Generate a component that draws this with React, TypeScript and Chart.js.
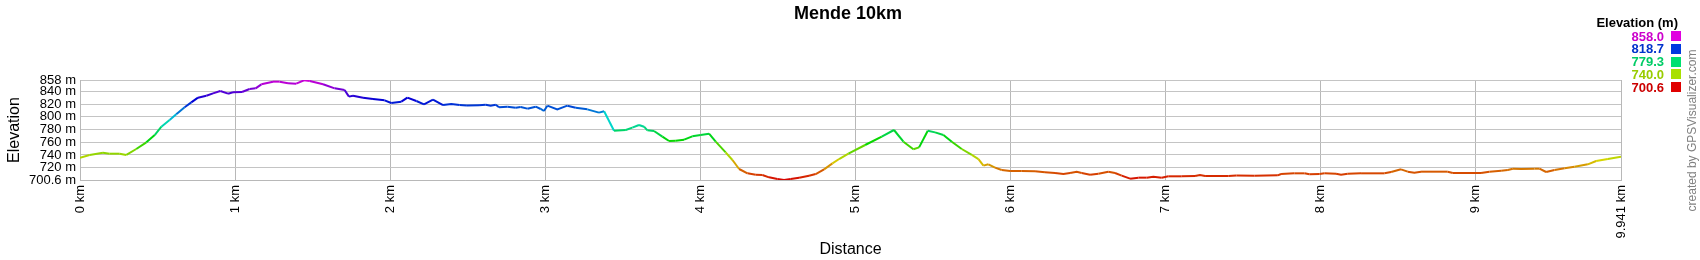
import React, { useEffect, useRef } from "react";
import { Chart, registerables } from "chart.js";

Chart.register(...registerables);

const FONT = "'Liberation Sans', Arial, Helvetica, sans-serif";

const chartTitle = "Mende 10km";
const xAxisTitle = "Distance";
const yAxisTitle = "Elevation";
const legendTitle = "Elevation (m)";
const creditText = "created by GPSVisualizer.com";

const distanceKm = [
  0.0, 0.062, 0.148, 0.191, 0.256, 0.299, 0.363, 0.428, 0.482, 0.525,
  0.578, 0.621, 0.675, 0.718, 0.761, 0.815, 0.858, 0.905, 0.955, 0.987,
  1.045, 1.094, 1.133, 1.17, 1.245, 1.288, 1.342, 1.395, 1.445, 1.482,
  1.568, 1.643, 1.707, 1.735, 1.761, 1.826, 1.89, 1.965, 2.008, 2.073,
  2.112, 2.17, 2.219, 2.277, 2.342, 2.395, 2.449, 2.496, 2.574, 2.617,
  2.649, 2.682, 2.703, 2.757, 2.811, 2.843, 2.886, 2.94, 2.972, 2.993,
  3.015, 3.079, 3.144, 3.198, 3.273, 3.348, 3.381, 3.445, 3.521, 3.563,
  3.606, 3.639, 3.66, 3.703, 3.757, 3.8, 3.843, 3.897, 3.95, 4.004,
  4.058, 4.101, 4.165, 4.209, 4.252, 4.306, 4.359, 4.402, 4.445, 4.499,
  4.542, 4.585, 4.639, 4.703, 4.746, 4.8, 4.854, 4.897, 4.957, 5.065,
  5.172, 5.251, 5.312, 5.376, 5.413, 5.469, 5.516, 5.57, 5.624, 5.688,
  5.753, 5.796, 5.828, 5.86, 5.903, 5.946, 6.0, 6.075, 6.161, 6.225,
  6.29, 6.344, 6.387, 6.43, 6.462, 6.516, 6.57, 6.634, 6.677, 6.72,
  6.774, 6.828, 6.881, 6.924, 6.978, 7.021, 7.107, 7.193, 7.225, 7.258,
  7.322, 7.408, 7.46, 7.576, 7.727, 7.748, 7.834, 7.899, 7.931, 7.996,
  8.028, 8.103, 8.135, 8.178, 8.264, 8.415, 8.458, 8.522, 8.565, 8.608,
  8.651, 8.737, 8.823, 8.856, 8.952, 9.038, 9.092, 9.168, 9.211, 9.243,
  9.297, 9.383, 9.415, 9.458, 9.512, 9.577, 9.641, 9.727, 9.781, 9.856,
  9.941,
];

const elevationM = [
  735.7, 740.0, 743.6, 742.0, 742.0, 740.0, 749.4, 759.9, 771.4, 784.5,
  795.0, 804.0, 815.0, 822.8, 830.2, 833.3, 837.0, 840.7, 836.5, 838.6,
  839.1, 843.8, 844.9, 851.2, 855.4, 855.4, 852.8, 852.2, 857.5, 856.4,
  851.2, 844.9, 842.3, 831.8, 833.3, 830.2, 828.0, 826.0, 821.8, 823.9,
  830.2, 825.0, 819.7, 827.0, 818.6, 820.2, 818.6, 818.0, 818.1, 819.2,
  817.6, 819.2, 815.0, 816.0, 814.4, 815.5, 812.9, 816.0, 812.4, 809.2,
  817.6, 811.8, 817.6, 814.4, 811.8, 806.6, 808.7, 778.2, 779.3, 783.0,
  787.2, 784.5, 778.8, 777.7, 768.8, 762.0, 762.5, 764.1, 769.3, 771.4,
  773.5, 760.9, 744.1, 732.1, 717.9, 711.1, 709.0, 708.5, 704.8, 702.2,
  700.6, 702.2, 704.3, 707.4, 710.0, 717.4, 726.8, 733.6, 742.0, 755.7,
  768.8, 779.3, 760.9, 748.9, 752.0, 778.2, 775.6, 771.4, 760.9, 749.4,
  740.0, 733.6, 723.2, 725.3, 720.0, 716.3, 714.8, 714.8, 714.2, 712.7,
  711.6, 710.0, 711.6, 713.7, 711.6, 709.0, 710.6, 713.7, 711.6, 707.4,
  702.7, 704.3, 704.3, 705.8, 704.3, 706.4, 706.4, 706.9, 708.5, 706.9,
  706.9, 706.9, 707.5, 707.4, 707.9, 710.0, 711.1, 711.1, 709.5, 710.0,
  711.1, 710.6, 709.0, 710.6, 711.1, 711.1, 713.2, 717.4, 713.7, 712.1,
  713.7, 713.7, 713.7, 711.6, 711.6, 711.6, 713.7, 715.3, 716.3, 718.4,
  717.9, 718.4, 718.4, 713.2, 716.3, 719.0, 721.6, 725.3, 730.5, 733.6,
  737.3,
];

const yTickValues = [700.6, 720, 740, 760, 780, 800, 820, 840, 858];
const xTickValues = [0, 1, 2, 3, 4, 5, 6, 7, 8, 9, 9.941];
const legendValues = [858.0, 818.7, 779.3, 740.0, 700.6];

const minElevation = 700.6;
const maxElevation = 858.0;

function colorFor(e: number, light = 42): string {
  let t = (e - minElevation) / (maxElevation - minElevation);
  if (t < 0) t = 0;
  if (t > 1) t = 1;
  const hue = 300 * t;
  return `hsl(${hue.toFixed(1)}, 100%, ${light}%)`;
}

function fmtY(v: number): string {
  const r = Math.round(v * 10) / 10;
  return Number.isInteger(r) ? `${r} m` : `${r.toFixed(1)} m`;
}

function fmtX(v: number): string {
  const r = Math.round(v * 1000) / 1000;
  return `${r} km`;
}

const overlayPlugin = {
  id: "overlay",
  afterDraw(chart: any) {
    const ctx = chart.ctx as CanvasRenderingContext2D;
    ctx.save();
    // title
    ctx.fillStyle = "#000";
    ctx.font = `bold 18px ${FONT}`;
    ctx.textAlign = "center";
    ctx.textBaseline = "alphabetic";
    ctx.fillText(chartTitle, 848, 19);
    // legend
    ctx.font = `bold 13px ${FONT}`;
    ctx.textAlign = "right";
    ctx.fillText(legendTitle, 1678, 26.5);
    legendValues.forEach((v, i) => {
      const base = 40.5 + i * 12.8;
      ctx.fillStyle = colorFor(v, 40);
      ctx.fillText(v.toFixed(1), 1664, base);
      ctx.fillStyle = colorFor(v, 44);
      ctx.fillRect(1671, Math.round(base - 9.5), 10, 10);
    });
    // credit
    ctx.translate(1693, 130.5);
    ctx.rotate(-Math.PI / 2);
    ctx.font = `12px ${FONT}`;
    ctx.fillStyle = "#808080";
    ctx.textAlign = "center";
    ctx.textBaseline = "middle";
    ctx.fillText(creditText, 0, 0);
    ctx.restore();
  },
};

export default function App() {
  const canvasRef = useRef<HTMLCanvasElement | null>(null);

  useEffect(() => {
    document.body.style.margin = "0";
    const canvas = canvasRef.current;
    if (!canvas) return;
    const points = distanceKm.map((d, i) => ({ x: d, y: elevationM[i] }));

    const chart = new Chart(canvas, {
      type: "line",
      data: {
        datasets: [
          {
            data: points,
            borderWidth: 2,
            pointRadius: 0,
            tension: 0,
            fill: false,
            borderColor: colorFor(740),
            segment: {
              borderColor: (c: any) =>
                colorFor((c.p0.parsed.y + c.p1.parsed.y) / 2),
            },
          },
        ],
      },
      options: {
        animation: false,
        responsive: false,
        devicePixelRatio: 1,
        layout: { padding: { top: 80, right: 79, left: 0, bottom: 0 } },
        plugins: {
          legend: { display: false },
          tooltip: { enabled: false },
          title: { display: false },
        },
        scales: {
          x: {
            type: "linear",
            min: 0,
            max: 9.941,
            afterBuildTicks: (scale: any) => {
              scale.ticks = xTickValues.map((v) => ({ value: v }));
            },
            afterFit: (scale: any) => {
              scale.height = 80;
            },
            ticks: {
              autoSkip: false,
              minRotation: 90,
              maxRotation: 90,
              padding: 5,
              color: "#000",
              font: { family: FONT, size: 13 },
              callback: (v: any) => fmtX(Number(v)),
            },
            grid: { color: "#b8b8b8", drawTicks: false, lineWidth: 1 },
            border: { color: "#b8b8b8" },
            title: {
              display: true,
              text: xAxisTitle,
              color: "#000",
              font: { family: FONT, size: 16 },
              padding: { top: 0, bottom: 1 },
            },
          },
          y: {
            type: "linear",
            min: minElevation,
            max: maxElevation,
            afterBuildTicks: (scale: any) => {
              scale.ticks = yTickValues.map((v) => ({ value: v }));
            },
            afterFit: (scale: any) => {
              scale.width = 80;
            },
            ticks: {
              autoSkip: false,
              padding: 4,
              color: "#000",
              font: { family: FONT, size: 13 },
              callback: (v: any) => fmtY(Number(v)),
            },
            grid: { color: "#c4c4c4", drawTicks: false, lineWidth: 1 },
            border: { color: "#b8b8b8" },
            title: {
              display: true,
              text: yAxisTitle,
              color: "#000",
              font: { family: FONT, size: 16 },
              padding: { top: 5, bottom: 0 },
            },
          },
        },
      },
      plugins: [overlayPlugin],
    } as any);

    return () => chart.destroy();
  }, []);

  return (
    <div style={{ width: 1700, height: 260, background: "#fff" }}>
      <canvas ref={canvasRef} width={1700} height={260} style={{ display: "block" }} />
    </div>
  );
}
